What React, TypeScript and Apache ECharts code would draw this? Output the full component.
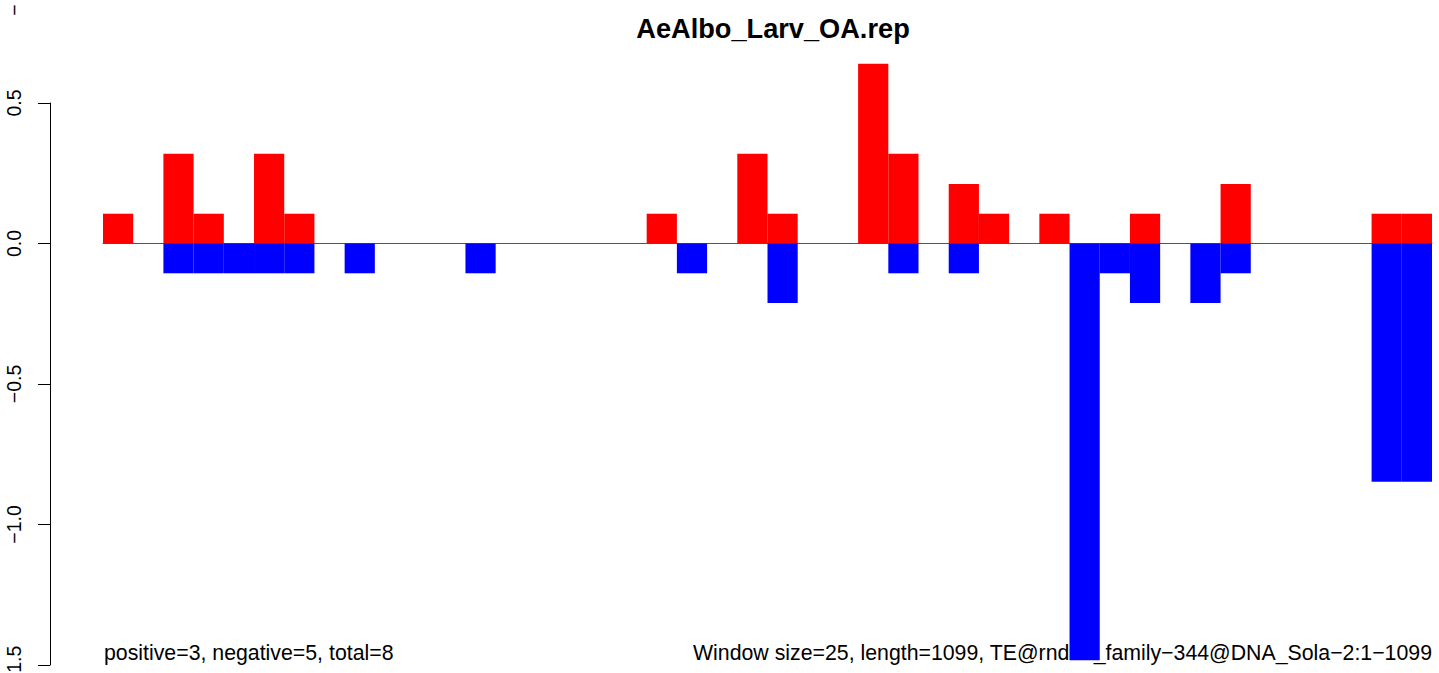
import React, { useEffect, useRef } from "react";
import * as echarts from "echarts";

const TITLE = "AeAlbo_Larv_OA.rep";
const LEFT_NOTE = "positive=3, negative=5, total=8";
const RIGHT_NOTE = "Window size=25, length=1099, TE@rnd−1_family−344@DNA_Sola−2:1−1099";

// 44 windows of 25 bp
const bins: string[] = Array.from({ length: 44 }, (_, i) => String(i + 1));

const positive: number[] = [
  0.106, 0, 0.319, 0.106, 0, 0.319, 0.106, 0, 0, 0,
  0, 0, 0, 0, 0, 0, 0, 0, 0.106, 0,
  0, 0.319, 0.106, 0, 0, 0.64, 0.319, 0, 0.212, 0.106,
  0, 0.106, 0, 0, 0.106, 0, 0, 0.212, 0, 0,
  0, 0, 0.106, 0.106,
];

const negative: number[] = [
  0, 0, -0.106, -0.106, -0.106, -0.106, -0.106, 0, -0.106, 0,
  0, 0, -0.106, 0, 0, 0, 0, 0, 0, -0.106,
  0, 0, -0.212, 0, 0, 0, -0.106, 0, -0.106, 0,
  0, 0, -1.483, -0.106, -0.212, 0, -0.212, -0.106, 0, 0,
  0, 0, -0.848, -0.848,
];

const yTicks = { min: -1.5, max: 0.5, interval: 0.5 };

const FONT = "'Liberation Sans', Arial, Helvetica, sans-serif";

export default function App() {
  const ref = useRef<HTMLDivElement>(null);
  useEffect(() => {
    if (!ref.current) return;
    const chart = echarts.init(ref.current, null, { renderer: "svg" });
    chart.setOption({
      animation: false,
      backgroundColor: "#ffffff",
      grid: {
        left: 103,
        right: 7,
        top: 103,
        bottom: 8,
        containLabel: false,
        outerBoundsMode: "none",
      },
      xAxis: {
        type: "category",
        data: bins,
        boundaryGap: true,
        axisLine: { show: true, onZero: true, lineStyle: { color: "#555555", width: 1 } },
        axisTick: { show: false },
        axisLabel: { show: false },
        splitLine: { show: false },
      },
      yAxis: {
        type: "value",
        min: yTicks.min,
        max: yTicks.max,
        interval: yTicks.interval,
        offset: 53,
        axisLine: { show: true, lineStyle: { color: "#000000", width: 1 } },
        axisTick: { show: true, length: 12, lineStyle: { color: "#000000", width: 1 } },
        splitLine: { show: false },
        axisLabel: {
          rotate: 90,
          margin: 26,
          fontSize: 19.5,
          color: "#000000",
          fontFamily: FONT,
          formatter: (v: number) => v.toFixed(1).replace("-", "−"),
        },
      },
      series: [
        {
          type: "bar",
          data: positive,
          barGap: "-100%",
          barCategoryGap: 0,
          clip: false,
          itemStyle: { color: "#ff0000" },
          z: 2,
        },
        {
          type: "bar",
          data: negative,
          barGap: "-100%",
          barCategoryGap: 0,
          clip: false,
          itemStyle: { color: "#0000ff" },
          z: 2,
        },
      ],
      graphic: [
        {
          type: "text",
          z: 0,
          x: 773,
          y: 28,
          style: {
            text: TITLE,
            fontFamily: FONT,
            fontWeight: "bold",
            fontSize: 27.2,
            fill: "#000000",
            textAlign: "center",
            textVerticalAlign: "middle",
          },
        },
        {
          type: "text",
          z: 0,
          x: 104,
          y: 653,
          style: {
            text: LEFT_NOTE,
            fontFamily: FONT,
            fontSize: 21.3,
            fill: "#000000",
            textAlign: "left",
            textVerticalAlign: "middle",
          },
        },
        {
          type: "text",
          z: 0,
          x: 1432,
          y: 653,
          style: {
            text: RIGHT_NOTE,
            fontFamily: FONT,
            fontSize: 21.3,
            fill: "#000000",
            textAlign: "right",
            textVerticalAlign: "middle",
          },
        },
        {
          type: "text",
          z: 0,
          x: 14,
          y: 10,
          rotation: Math.PI / 2,
          style: {
            text: "−",
            fontFamily: FONT,
            fontSize: 19.5,
            fill: "#000000",
            textAlign: "center",
            textVerticalAlign: "middle",
          },
        },
      ],
    });
    return () => chart.dispose();
  }, []);
  return (
    <div
      ref={ref}
      style={{ position: "fixed", left: 0, top: 0, width: 1439, height: 673, background: "#fff" }}
    />
  );
}
